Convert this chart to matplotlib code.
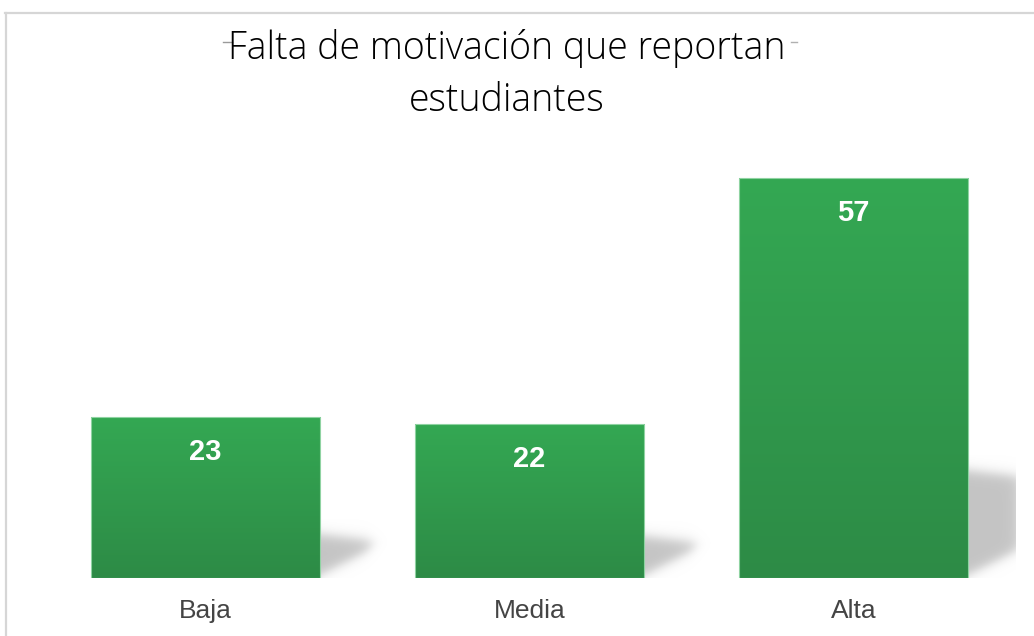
import numpy as np
import matplotlib.pyplot as plt
from matplotlib.patches import Rectangle
from matplotlib.lines import Line2D
from matplotlib.colors import LinearSegmentedColormap

categories = ["Baja", "Media", "Alta"]
values = [23, 22, 57]
title_lines = ["Falta de motivación que reportan", "estudiantes"]

W, H = 1034, 636
fig = plt.figure(figsize=(W / 100, H / 100), dpi=100)
fig.patch.set_facecolor("white")

# one category step = 324 px, 1 unit = 7.02 px
ax = fig.add_axes([43.5 / W, 58 / H, 972 / W, 421 / H])
ax.set_xlim(-0.5, 2.5)
ax.set_ylim(0, 60)
ax.axis("off")
PX_X = 324.0
PX_Y = 421.0 / 60

bar_w = 0.707
green = LinearSegmentedColormap.from_list("g", ["#2d8b46", "#34a853"])
grad = np.linspace(0, 1, 256).reshape(-1, 1)


def sig(z):
    return 1 / (1 + np.exp(-z))


for i, v in enumerate(values):
    x0, x1 = i - bar_w / 2, i + bar_w / 2

    # soft shadow next to the bar foot (worked out in pixels)
    T = 0.27 * v * PX_Y
    wpx = 70
    hpx = T + 15
    px = np.linspace(0, wpx, 140)[None, :]
    py = np.linspace(0, hpx, 200)[:, None]
    top = T - 0.12 * px
    bot = 3 + 0.5 * px
    a = sig((top - py) / 3.5) * sig((py - bot) / 3.5) * sig((52 - px) / 4)
    rgba = np.zeros((200, 140, 4))
    rgba[..., :3] = 0.77
    rgba[..., 3] = a
    ax.imshow(rgba, extent=[x1, x1 + wpx / PX_X, 0, hpx / PX_Y],
              origin="lower", aspect="auto", zorder=1,
              interpolation="bilinear")

    # bar with vertical gradient
    im = ax.imshow(grad, extent=[x0, x1, 0, v], origin="lower", aspect="auto",
                   cmap=green, zorder=2, interpolation="bicubic")
    rect = Rectangle((x0, 0), bar_w, v, facecolor="none",
                     edgecolor="#8fd3a2", lw=0.8, zorder=3)
    ax.add_patch(rect)
    im.set_clip_path(rect)

    ax.text(i, v - 43 / PX_Y, str(v), ha="center", va="baseline",
            color="white", fontsize=21, fontweight="bold",
            family=["Liberation Sans Narrow", "Liberation Sans"], zorder=4)
    ax.text(i, -40 / PX_Y, categories[i], ha="center", va="baseline",
            color="#444444", fontsize=19,
            family=["Liberation Sans", "DejaVu Sans"])

ax.set_xlim(-0.5, 2.5)
ax.set_ylim(0, 60)

fig.text(507 / W, 1 - 59 / H, title_lines[0], ha="center", va="baseline",
         fontsize=27, fontweight="light", family=["Open Sans", "DejaVu Sans"])
fig.text(507 / W, 1 - 111 / H, title_lines[1], ha="center", va="baseline",
         fontsize=27, fontweight="light", family=["Open Sans", "DejaVu Sans"])

# little stray dashes beside the title
fig.add_artist(Line2D([223 / W, 232 / W], [1 - 42 / H, 1 - 42 / H],
                      color="#9a9a9a", lw=1.0, transform=fig.transFigure))
fig.add_artist(Line2D([791 / W, 797 / W], [1 - 42 / H, 1 - 42 / H],
                      color="#b0b0b0", lw=1.0, transform=fig.transFigure))

# light frame around the chart area
fig.add_artist(Line2D([5 / W, 1], [1 - 13 / H, 1 - 13 / H], color="#d6d6d6",
                      lw=1.6, transform=fig.transFigure))
fig.add_artist(Line2D([5.5 / W, 5.5 / W], [0, 1 - 13 / H], color="#d6d6d6",
                      lw=1.6, transform=fig.transFigure))

fig.savefig("out.png", dpi=100)
